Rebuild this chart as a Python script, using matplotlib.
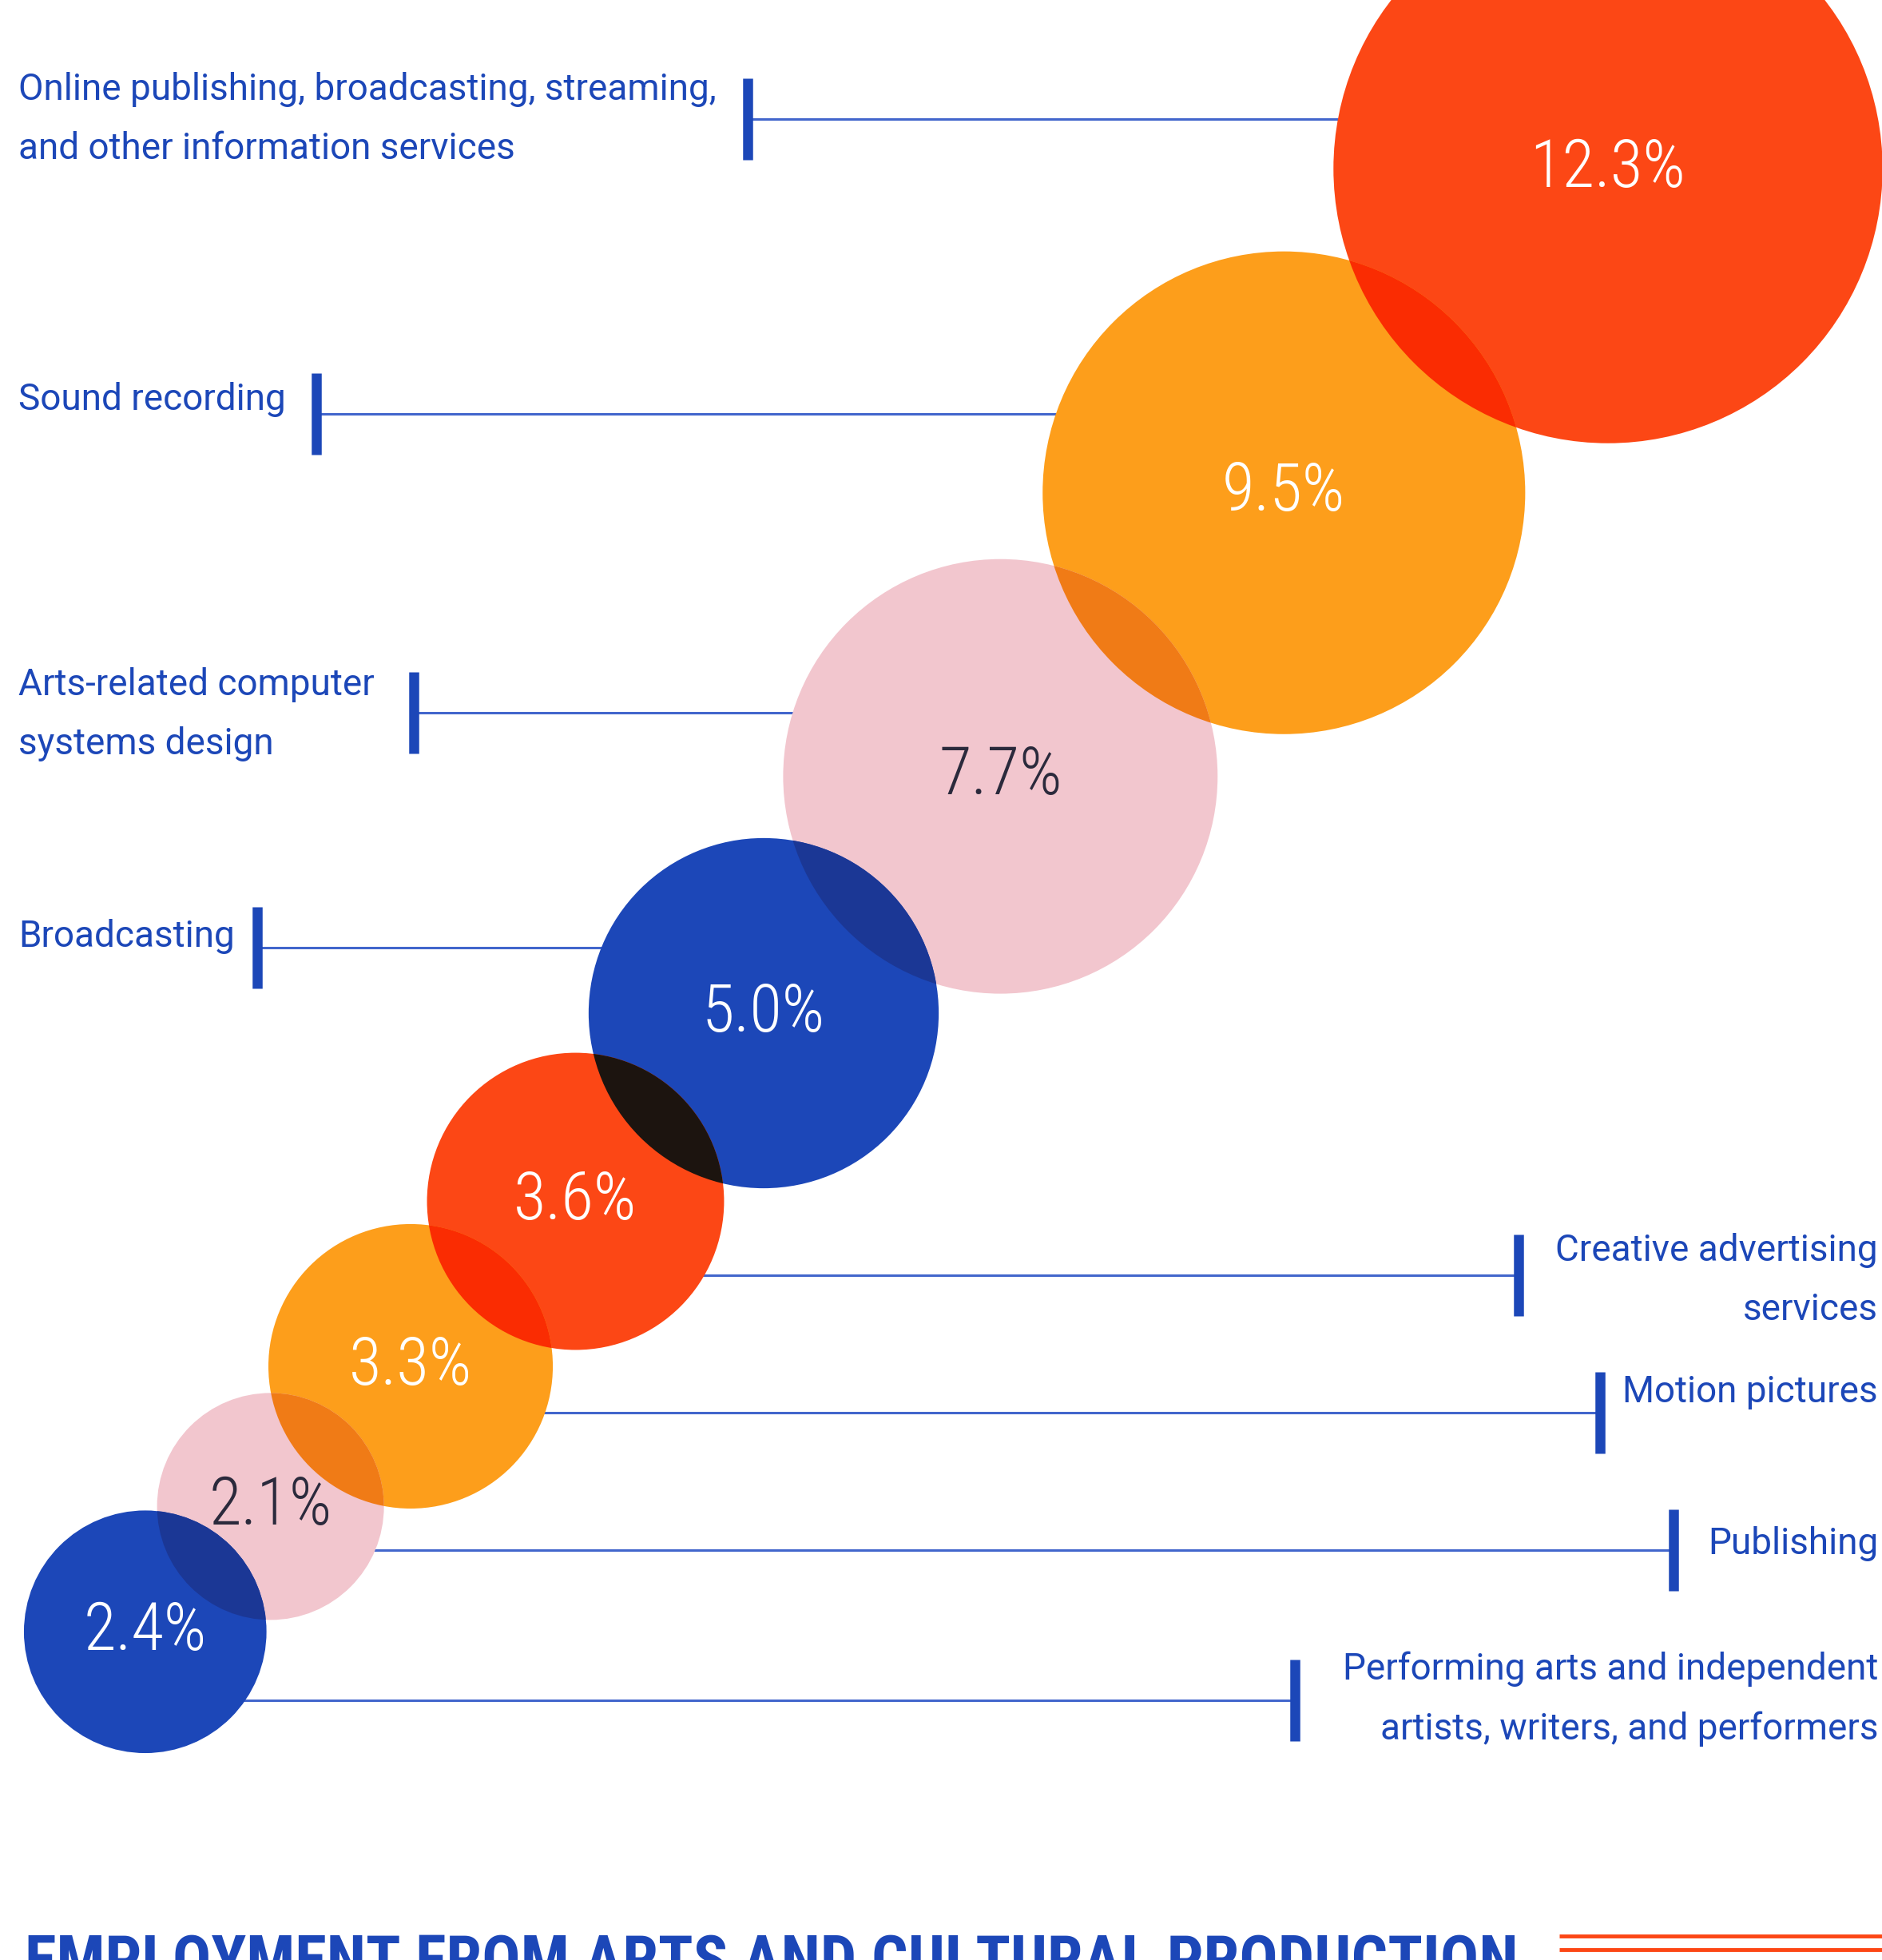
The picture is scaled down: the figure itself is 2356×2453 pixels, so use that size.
import numpy as np
import matplotlib
matplotlib.use('Agg')
import matplotlib.pyplot as plt
from matplotlib import font_manager
from matplotlib.patches import Circle
from matplotlib.colors import to_rgb

# data
categories = ['Online publishing, broadcasting, streaming,\nand other information services',
              'Sound recording',
              'Arts-related computer\nsystems design',
              'Broadcasting',
              'Creative advertising\nservices',
              'Motion pictures',
              'Publishing',
              'Performing arts and independent\nartists, writers, and performers']
values = [12.3, 9.5, 7.7, 5.0, 3.6, 3.3, 2.1, 2.4]
value_labels = ['12.3%', '9.5%', '7.7%', '5.0%', '3.6%', '3.3%', '2.1%', '2.4%']
title = 'EMPLOYMENT FROM ARTS AND CULTURAL PRODUCTION'

# styles / layout (pixel space of the 2356x2453 picture)
colors = ['#FC4715', '#FD9E1B', '#F2C6CE', '#1C47B8',
          '#FC4715', '#FD9E1B', '#F2C6CE', '#1C47B8']
text_cols = ['white', 'white', '#2B2A3C', 'white', 'white', 'white', '#2B2A3C', 'white']
label_side = ['left'] * 4 + ['right'] * 4
line_y = [149, 518, 892, 1186, 1596, 1768, 1940, 2128]
label_y = [149, 500, 894, 1172, 1602, 1742, 1932, 2126]
bar_x = [936, 396, 518, 322, 1901, 2003, 2095, 1621]
W, H = 2356, 2453
scale = 98.0          # radius = scale * sqrt(value)
overlap = 72.0        # how far consecutive circles overlap
first_center = (2013, 211)
BLUE = '#1C47B8'
LINE_BLUE = '#4266CC'

# look for a narrow face, the original uses a condensed DIN
installed = {(f.name, f.stretch) for f in font_manager.fontManager.ttflist}
names = {n for n, s in installed}
narrow = None
for fam in ['Roboto Condensed', 'Liberation Sans Narrow', 'Open Sans Condensed']:
    if fam in names:
        narrow = dict(family=fam)
        break
if narrow is None:
    for n, s in installed:
        if n == 'DejaVu Sans' and s in ('condensed', 'semi-condensed'):
            narrow = dict(family='DejaVu Sans', fontstretch='condensed')
            break
if narrow is None:
    pct_font = dict(family='Roboto', fontweight='light', fontsize=54)
    title_font = dict(family='Roboto', fontweight='bold', fontsize=46)
else:
    pct_font = dict(narrow, fontweight='light', fontsize=60)
    title_font = dict(narrow, fontweight='bold', fontsize=58)

radii = scale * np.sqrt(values)
centers = [np.array(first_center, dtype=float)]
for i in range(1, len(values)):
    d = radii[i - 1] + radii[i] - overlap
    centers.append(centers[-1] + d * np.array([-1, 1]) / np.sqrt(2))

fig = plt.figure(figsize=(W / 100, H / 100), dpi=100)
fig.patch.set_facecolor('white')
ax = fig.add_axes([0, 0, 1, 1])
ax.set_xlim(0, W)
ax.set_ylim(H, 0)
ax.set_aspect('equal')
ax.axis('off')

# circles
patches = []
for c, r, col in zip(centers, radii, colors):
    p = Circle(c, r, facecolor=col, edgecolor='none', zorder=3)
    ax.add_patch(p)
    patches.append(p)

# multiply blend where neighbours overlap
for i in range(len(values) - 1):
    a = np.array(to_rgb(colors[i]))
    b = np.array(to_rgb(colors[i + 1]))
    lens = Circle(centers[i + 1], radii[i + 1], facecolor=tuple(a * b),
                  edgecolor='none', zorder=4)
    ax.add_patch(lens)
    lens.set_clip_path(patches[i])

# percentage labels
for c, lab, tc in zip(centers, value_labels, text_cols):
    ax.text(c[0], c[1], lab, ha='center', va='center', color=tc, zorder=6, **pct_font)

# leader lines, bars and category labels
for i, name in enumerate(categories):
    cx = centers[i][0]
    ax.plot([bar_x[i], cx], [line_y[i], line_y[i]], color=LINE_BLUE, lw=2.2,
            solid_capstyle='butt', zorder=1)
    ax.plot([bar_x[i], bar_x[i]], [line_y[i] - 51, line_y[i] + 51], color=BLUE,
            lw=9, solid_capstyle='butt', zorder=2)
    if label_side[i] == 'left':
        ax.text(23, label_y[i], name, ha='left', va='center', color=BLUE,
                fontsize=33, family='Roboto', linespacing=1.85)
    else:
        ax.text(2351, label_y[i], name, ha='right', va='center', color=BLUE,
                fontsize=33, family='Roboto', linespacing=1.85, multialignment='right')

# title, cut off by the bottom edge like the source
ax.text(31, 2419, title, ha='left', va='top', color=BLUE, **title_font)
ax.plot([1952, W], [2423, 2423], color='#FC4715', lw=3.5, solid_capstyle='butt')
ax.plot([1952, W], [2440, 2440], color='#FC4715', lw=3.5, solid_capstyle='butt')

fig.savefig('out.png', dpi=100, facecolor='white')
